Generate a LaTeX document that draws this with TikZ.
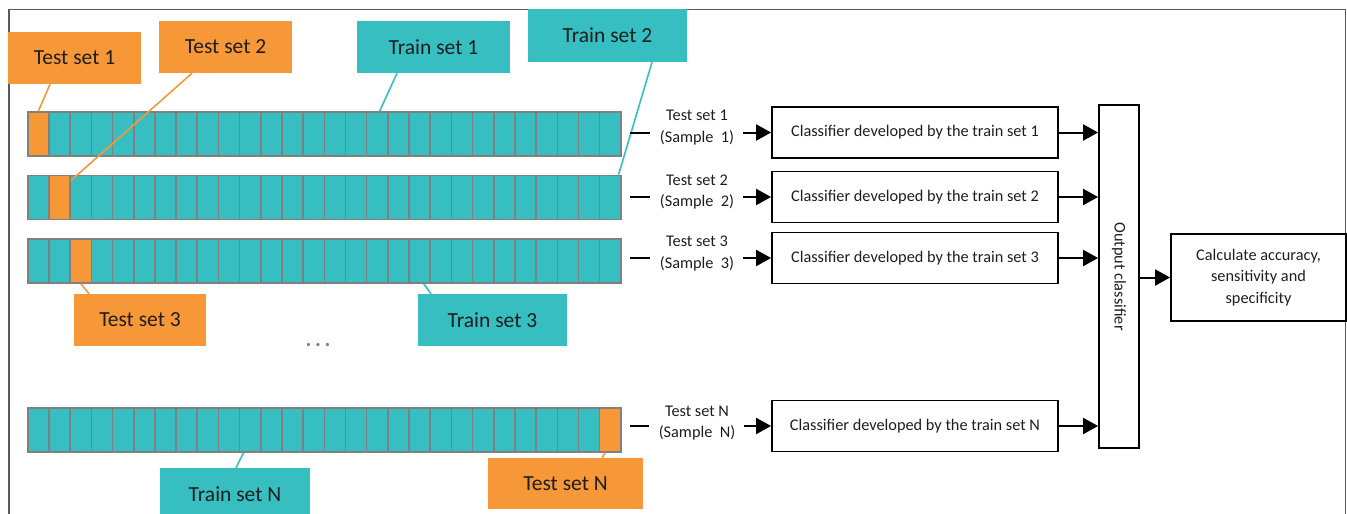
\documentclass[tikz,border=0pt]{standalone}
\usepackage{fontspec}
\setmainfont{Carlito}
\usetikzlibrary{arrows.meta,calc}
\definecolor{testorange}{RGB}{247,152,56}
\definecolor{trainteal}{RGB}{54,190,192}
\definecolor{cellgray}{RGB}{128,128,128}
\definecolor{framegray}{RGB}{90,90,90}
\definecolor{inkdark}{RGB}{30,30,30}

\begin{document}
\begin{tikzpicture}[x=1pt,y=-1pt,
  cellbox/.style={draw=cellgray,line width=1.6pt,fill=trainteal,
    minimum width=21.18pt,minimum height=44pt,inner sep=0pt,anchor=north west},
  tag/.style={inner sep=0pt,font=\fontsize{21.5}{24}\selectfont,text=inkdark},
  testtag/.style={tag,fill=testorange},
  traintag/.style={tag,fill=trainteal},
  testlead/.style={draw=testorange,line width=1.6pt},
  trainlead/.style={draw=trainteal,line width=1.6pt},
  small/.style={font=\fontsize{16.3}{21.5}\selectfont,align=center,text=inkdark},
  clsbox/.style={small,draw=black,line width=1.8pt,minimum width=286pt,minimum height=51pt,inner sep=0pt},
  samplelabel/.style={small,inner sep=0pt},
  link/.style={draw=black,line width=2pt},
  arr/.style={link,-{Triangle[length=15pt,width=16pt]}},
]
\useasboundingbox (0,0) rectangle (1347,514);
\clip (0,0) rectangle (1347,514);

% outer frame (open at the bottom)
\draw[framegray,line width=1.8pt] (9,514) -- (9,9.5) -- (1345.5,9.5) -- (1345.5,514);

% the four sample bars, 28 cells each, one test cell per bar
\foreach \b/\ty/\t in {1/111/0, 2/174.5/1, 3/238/2, N/407/27}{
  \foreach \k in {0,...,27}{
    \ifnum\k=\t\relax\def\cellcol{testorange}\else\def\cellcol{trainteal}\fi
    \node[cellbox,fill=\cellcol] (c\b-\k) at ({27+21.18*\k},\ty) {};
  }
}

% callout tags
\node[testtag,minimum width=133pt,minimum height=52pt] (ts1) at (74.5,58) {Test set 1};
\node[testtag,minimum width=133pt,minimum height=52pt] (ts2) at (225.5,47) {Test set 2};
\node[traintag,minimum width=153pt,minimum height=52pt] (tr1) at (433.5,47) {Train set 1};
\node[traintag,minimum width=159pt,minimum height=53pt] (tr2) at (607.5,35.5) {Train set 2};
\node[testtag,minimum width=132pt,minimum height=52pt] (ts3) at (140,320) {Test set 3};
\node[traintag,minimum width=149pt,minimum height=52pt] (tr3) at (492.5,320) {Train set 3};
\node[traintag,minimum width=150pt,minimum height=52pt] (trN) at (235,494) {Train set N};
\node[testtag,minimum width=155pt,minimum height=51pt] (tsN) at (565.5,483.5) {Test set N};

% callout leaders
\draw[testlead]  ([xshift=-24.5pt]ts1.south) -- (c1-0.north);
\draw[testlead]  ([xshift=-33.5pt]ts2.south) -- ([yshift=-6pt]c2-1.north east);
\draw[trainlead] ([xshift=-36.5pt]tr1.south) -- ([xshift=2.5pt]c1-16.north);
\draw[trainlead] ([xshift=44.5pt]tr2.south) -- ([xshift=-3pt]c2-27.north east);
\draw[testlead]  (c3-2.south) -- ([xshift=-51pt]ts3.north);
\draw[trainlead] ([xshift=4pt]c3-18.south) -- ([xshift=-61.5pt]tr3.north);
\draw[trainlead] ([xshift=-6.5pt]cN-10.south) -- ([xshift=1pt]trN.north);
\draw[testlead]  ([xshift=-5pt]cN-27.south) -- ([xshift=36.5pt]tsN.north);

% ellipsis between sample 3 and sample N
\node[text=gray,font=\fontsize{22}{22}\selectfont\bfseries,inner sep=0pt] (dots) at (318,345) {.\,.\,.};

% output classifier and final evaluation
\node[draw=black,line width=1.8pt,minimum width=40pt,minimum height=343pt,inner sep=0pt] (out) at (1119,276.5) {};
\node[small,rotate=-90] (outtext) at (out.center) {Output classifier};
\node[small,draw=black,line width=1.8pt,minimum width=175pt,minimum height=87pt,inner sep=0pt] (calc) at (1258.5,277.5)
  {Calculate accuracy,\\sensitivity and\\specificity};

% one classifier per sample
\foreach \b/\cy/\ly in {1/132.5/127.5, 2/197/192, 3/258/253.5, N/426/423}{
  \node[clsbox] (cls\b) at (915,\cy) {Classifier developed by the train set \b};
  \node[samplelabel] (lab\b) at (697,\ly) {Test set \b\\(Sample~~\b)};
  \draw[link] ($(c\b-27.east |- cls\b.west)+(8,0)$) -- ($(lab\b.west |- cls\b.west)+(-10,0)$);
  \draw[arr] ($(lab\b.east |- cls\b.west)+(9,0)$) -- (cls\b.west);
  \draw[arr] (cls\b.east) -- (cls\b.east -| out.west);
}
\draw[arr] (out.east |- calc.west) -- (calc.west);
\end{tikzpicture}
\end{document}
